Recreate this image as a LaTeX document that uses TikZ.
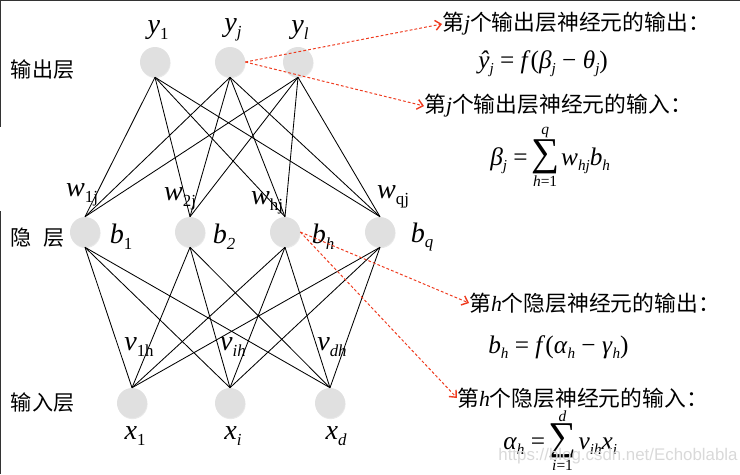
\documentclass[tikz,border=0pt]{standalone}
\usepackage{fontspec}
\setmainfont{Liberation Serif}
\newfontfamily\cjk{Noto Sans CJK SC}
\newfontfamily\wmfont{Liberation Sans}
\usetikzlibrary{arrows.meta}
\usetikzlibrary{shadows}
\usetikzlibrary{positioning}

\definecolor{arrowred}{RGB}{238,58,30}
\definecolor{cellgray}{RGB}{224,224,224}

\makeatletter
\newcommand\sub[1]{\raisebox{-0.2em}{\fontsize{\strip@pt\dimexpr\f@size pt*6/10\relax}{1}\selectfont #1}}
\makeatother
\newcommand\var[2]{\textit{#1}\sub{\textit{#2}}}
\newcommand\varr[2]{\textit{#1}\sub{#2}}

\tikzset{
  neuron/.style={circle, fill=cellgray, minimum size=0.75cm, inner sep=0pt,
    drop shadow={opacity=0.18, shadow xshift=0.4pt, shadow yshift=-0.8pt}},
  link/.style={black, line width=0.6pt},
  pointer/.style={arrowred, dashed, line width=0.7pt, dash pattern=on 2pt off 1.5pt,
    -{Straight Barb[length=4pt, width=7pt, line width=1pt]}},
  layername/.style={anchor=west, font=\cjk\fontsize{15}{18}\selectfont},
  weight/.style={font=\fontsize{20}{22}\selectfont, inner sep=0pt},
  caption/.style={anchor=west, inner sep=0pt, font=\cjk\fontsize{15.5}{18}\selectfont},
  formula/.style={anchor=west, inner sep=0pt, font=\fontsize{18}{20}\selectfont},
  bigsum/.style={inner sep=0pt, font=\fontsize{28}{30}\selectfont},
  limit/.style={inner sep=0pt, font=\fontsize{11}{12}\selectfont}
}

\begin{document}
\begin{tikzpicture}[x=0.025cm, y=-0.025cm]
  \useasboundingbox (0,0) rectangle (740,474);
  \draw[line width=1.3pt, black!80] (0,0.5) -- (740,0.5);
  \draw[line width=1.3pt, black!80] (0.5,0) -- (0.5,127);
  \draw[line width=1.3pt, black!80] (0.5,211) -- (0.5,474);

  % output layer
  \node[neuron] (y1) at (155,62) {};
  \node[neuron] (yj) at (230,62) {};
  \node[neuron] (yl) at (298,62) {};
  % hidden layer
  \node[neuron] (b1) at (85,232) {};
  \node[neuron] (b2) at (190,232) {};
  \node[neuron] (bh) at (285,232) {};
  \node[neuron] (bq) at (380,232) {};
  % input layer
  \node[neuron] (x1) at (132,403) {};
  \node[neuron] (xi) at (230,403) {};
  \node[neuron] (xd) at (330,403) {};

  \foreach \o in {y1,yj,yl}
    \foreach \h in {b1,b2,bh,bq}
      \draw[link] (\o.south) -- (\h.north);
  \foreach \h in {b1,b2,bh,bq}
    \foreach \i in {x1,xi,xd}
      \draw[link] (\h.south) -- (\i.north);

  \node[layername] (outname) at (6,70) {输出层};
  \node[layername] (hidname) at (6,238) {隐\hspace{0.55em}层};
  \node[layername] (inname) at (6,403) {输入层};

  \node[weight] (ly1) at (158,30) {\varr{y}{1}};
  \node[weight] (lyj) at (233,30) {\var{y}{j}};
  \node[weight] (lyl) at (300,30) {\var{y}{l}};
  \node[weight] (lw1) at (82,195) {\varr{w}{1j}};
  \node[weight] (lw2) at (180,199) {\varr{w}{2j}};
  \node[weight] (lwh) at (267,203) {\varr{w}{hj}};
  \node[weight] (lwq) at (393,197) {\varr{w}{qj}};
  \node[weight] (lb1) at (121,237) {\varr{b}{1}};
  \node[weight] (lb2) at (224,237) {\var{b}{2}};
  \node[weight] (lbh) at (323,237) {\var{b}{h}};
  \node[weight] (lbq) at (422,237) {\var{b}{q}};
  \node[weight] (lv1) at (139,347) {\varr{v}{1h}};
  \node[weight] (lvi) at (233,347) {\var{v}{ih}};
  \node[weight] (lvd) at (332,347) {\var{v}{dh}};
  \node[weight] (lx1) at (135,436) {\varr{x}{1}};
  \node[weight] (lxi) at (233,436) {\var{x}{i}};
  \node[weight] (lxd) at (336,436) {\var{x}{d}};

  % right side: captions and formulas
  \node[caption] (youttext) at (442,24) {第{\rmfamily\itshape j}个输出层神经元的输出：};
  \node[formula] (youtform) at (478,64) {\var{ŷ}{j} = \textit{f}(\var{β}{j} − \var{θ}{j})};
  \node[caption] (yintext) at (424,106) {第{\rmfamily\itshape j}个输出层神经元的输入：};
  \node[formula] (betaeq) at (490,161) {\var{β}{j} =};
  \node[bigsum, anchor=base west] (betasum) at ([xshift=2pt]betaeq.base east) {∑};
  \node[formula, anchor=base west] (betaterm) at ([xshift=1pt]betasum.base east) {\var{w}{hj}\var{b}{h}};
  \node[limit, above=1pt of betasum] (betatop) {\textit{q}};
  \node[limit, below=1pt of betasum] (betabot) {\textit{h}=1};

  \node[caption] (bouttext) at (469,303) {第{\rmfamily\itshape h}个隐层神经元的输出：};
  \node[formula] (boutform) at (488,347) {\var{b}{h} = \textit{f}(\var{α}{h} − \var{γ}{h})};
  \node[caption] (bintext) at (457,398) {第{\rmfamily\itshape h}个隐层神经元的输入：};
  \node[formula] (alphaeq) at (503,446) {\var{α}{h} =};
  \node[bigsum, anchor=base west] (alphasum) at ([xshift=2pt]alphaeq.base east) {∑};
  \node[formula, anchor=base west] (alphaterm) at ([xshift=1pt]alphasum.base east) {\var{v}{ih}\var{x}{i}};
  \node[limit, above=1pt of alphasum] (alphatop) {\textit{d}};
  \node[limit, below=1pt of alphasum] (alphabot) {\textit{i}=1};

  \draw[pointer] (yj.east) -- (youttext.west);
  \draw[pointer] (yj.east) -- (yintext.west);
  \draw[pointer] (bh.east) -- (bouttext.west);
  \draw[pointer] (bh.east) -- (bintext.west);

  \node[text=gray!30, font=\wmfont\fontsize{12}{14}\selectfont] (mark) at (618,456) {https://blog.csdn.net/Echoblabla};
\end{tikzpicture}
\end{document}
